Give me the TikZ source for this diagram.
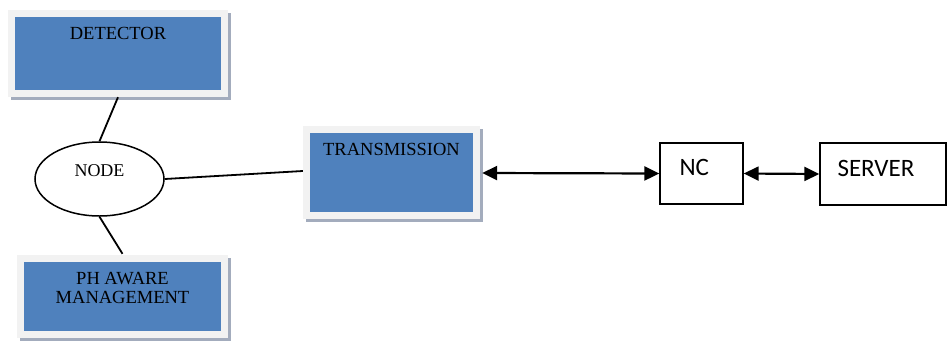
\documentclass[tikz,border=0pt]{standalone}
\usepackage{fontspec}
\setmainfont{Liberation Serif}
\newfontfamily\calfont{Carlito}
\usetikzlibrary{arrows.meta,calc,backgrounds,shapes.geometric}
\definecolor{panelblue}{HTML}{4F81BD}
\definecolor{panelframe}{HTML}{F2F2F2}
\definecolor{panelshadow}{HTML}{A3ACBD}
\begin{document}
\begin{tikzpicture}[x=1pt,y=-1pt,
  panel/.style={fill=panelblue, draw=none, inner sep=0pt},
  paneltext/.style={font=\fontsize{18.5}{19}\selectfont, inner sep=0pt, anchor=north, align=center},
  plainbox/.style={draw=black, line width=1.3pt, inner sep=0pt},
  boxtext/.style={font=\calfont\fontsize{25}{26}\selectfont, inner sep=0pt, anchor=base west},
  conn/.style={line width=1.8pt, draw=black},
  dblarrow/.style={line width=2.2pt, draw=black, {Triangle[length=15pt,width=14pt]}-{Triangle[length=15pt,width=14pt]}}
]
\useasboundingbox (0,0) rectangle (948,341);

% blue panels
\node[panel, minimum width=206pt, minimum height=73pt] (det) at (118,53.5) {};
\node[panel, minimum width=197pt, minimum height=69pt] (ph) at (122.5,296.5) {};
\node[panel, minimum width=163pt, minimum height=79pt] (trans) at (391.5,172.5) {};

% frames and shadows
\begin{scope}[on background layer]
  \foreach \p in {det,ph,trans}{
    \fill[panelshadow] ($(\p.north west)+(-4,-4)$) rectangle ($(\p.south east)+(10,10)$);
    \fill[panelframe] ($(\p.north west)+(-7,-7)$) rectangle ($(\p.south east)+(7,7)$);
  }
\end{scope}

\node[paneltext] (detl) at ($(det.north)+(0,10)$) {DETECTOR};
\node[paneltext] (phl) at ($(ph.north)+(0,10)$) {PH AWARE\\MANAGEMENT};
\node[paneltext] (transl) at ($(trans.north)+(0,10)$) {TRANSMISSION};

% ellipse
\node[draw=black, line width=1.5pt, ellipse, minimum width=129pt, minimum height=74pt, inner sep=0pt] (nd) at (99.5,179) {};
\node[font=\fontsize{18}{19}\selectfont, inner sep=0pt, anchor=base] (ndl) at (99.5,176) {NODE};

% plain boxes
\node[plainbox, minimum width=83pt, minimum height=61pt] (nc) at (701.5,173.5) {};
\node[plainbox, minimum width=126pt, minimum height=62pt] (srv) at (883,174) {};
\node[boxtext] (ncl) at ($(nc.west)+(20,1.5)$) {NC};
\node[boxtext] (srvl) at ($(srv.west)+(18,2)$) {SERVER};

% connectors
\draw[conn] ($(det.south)+(0,7)$) -- (nd.north);
\draw[conn] (nd.south) -- ($(ph.north)+(0,-8)$);
\draw[conn] (nd.east) -- ($(trans.west)+(-7,-1.5)$);
\draw[dblarrow] ($(trans.east)+(9,0.5)$) -- (nc.west);
\draw[dblarrow] (nc.east) -- (srv.west);
\end{tikzpicture}
\end{document}
